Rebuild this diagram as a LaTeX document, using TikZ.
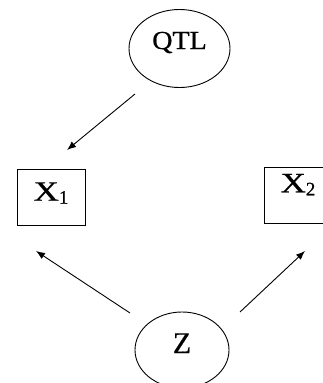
\documentclass[tikz,border=0pt]{standalone}
\usepackage{fontspec}
\setmainfont[FakeBold=0.6]{Liberation Serif}
\usetikzlibrary{shapes.geometric,arrows.meta}
\begin{document}
\begin{tikzpicture}[x=1pt,y=-1pt,
  ell/.style={draw,ellipse,line width=0.9pt,inner sep=0pt},
  boxnode/.style={draw,rectangle,line width=0.8pt,inner sep=0pt,minimum width=68pt,minimum height=56pt},
  conn/.style={line width=0.9pt,-{Latex[length=9pt,width=7pt]}}]
\useasboundingbox (0,0) rectangle (323,383);
\clip (0,0) rectangle (323,383);
\node[ell,minimum width=101pt,minimum height=78pt,text height=9pt,text depth=8pt] (qtl) at (179.5,48.5)
  {\fontsize{26}{30}\selectfont\scalebox{1.08}[1]{QTL}};
\node[boxnode,text height=10pt,text depth=3.6pt] (x1) at (51,197.5)
  {\fontsize{28}{32}\selectfont\scalebox{1.25}[1]{X}\raisebox{-3pt}{\fontsize{19}{19}\selectfont 1}\hspace{5pt}};
\node[boxnode,text height=3pt,text depth=9.8pt] (x2) at (298,195.7)
  {\fontsize{28}{32}\selectfont\scalebox{1.25}[1]{X}\raisebox{-3pt}{\fontsize{19}{19}\selectfont 2}\hspace{4.4pt}};
\node[ell,minimum width=94pt,minimum height=76pt,text height=9pt,text depth=3pt] (z) at (182,350)
  {\fontsize{30}{34}\selectfont Z};
\draw[conn] ([shift={(-44.5,45.5)}]qtl.center) -- ([shift={(16,-47.5)}]x1.center);
\draw[conn] ([shift={(-52,-37)}]z.center) -- ([shift={(-15,53.5)}]x1.center);
\draw[conn] ([shift={(58,-38)}]z.center) -- ([shift={(7,55.3)}]x2.center);
\end{tikzpicture}
\end{document}
